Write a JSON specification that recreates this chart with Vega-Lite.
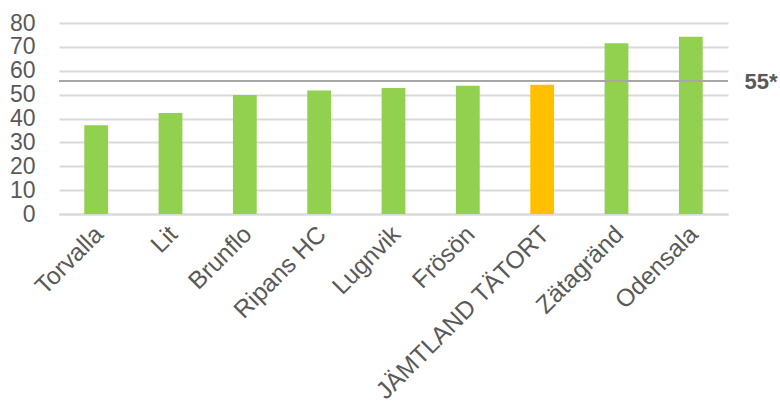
{
  "$schema": "https://vega.github.io/schema/vega-lite/v6.json",
  "autosize": "none",
  "width": 669,
  "height": 191,
  "padding": {"left": 59, "top": 23, "right": 52, "bottom": 191},
  "background": "white",
  "config": {"view": {"stroke": null}, "font": "Liberation Sans"},
  "layer": [
    {
      "data": {"values": [
        {"plats": "Torvalla", "värde": 37.2, "typ": "enhet"},
        {"plats": "Lit", "värde": 42.3, "typ": "enhet"},
        {"plats": "Brunflo", "värde": 49.8, "typ": "enhet"},
        {"plats": "Ripans HC", "värde": 51.7, "typ": "enhet"},
        {"plats": "Lugnvik", "värde": 52.8, "typ": "enhet"},
        {"plats": "Frösön", "värde": 53.7, "typ": "enhet"},
        {"plats": "JÄMTLAND TÄTORT", "värde": 54.1, "typ": "total"},
        {"plats": "Zätagränd", "värde": 71.5, "typ": "enhet"},
        {"plats": "Odensala", "värde": 74.2, "typ": "enhet"}
      ]},
      "mark": {"type": "bar"},
      "encoding": {
        "x": {"field": "plats", "type": "nominal", "sort": null,
          "scale": {"paddingInner": 0.68, "paddingOuter": 0.34},
          "axis": {"title": null, "labelAngle": -45, "labelFontSize": 24.5, "labelColor": "#595959",
            "labelPadding": 8, "labelOffset": -5, "labelLimit": 500, "ticks": false, "domainColor": "#d9d9d9", "domainWidth": 2}},
        "y": {"field": "värde", "type": "quantitative",
          "scale": {"domain": [0, 80], "nice": false},
          "axis": {"title": null, "values": [0,10,20,30,40,50,60,70,80], "labelFontSize": 23, "labelColor": "#595959",
            "labelPadding": 24, "ticks": false, "domain": false, "gridColor": "#d9d9d9", "gridWidth": 2}},
        "color": {"field": "typ", "type": "nominal",
          "scale": {"domain": ["enhet", "total"], "range": ["#92d050", "#ffc000"]}, "legend": null}
      }
    },
    {
      "data": {"values": [{"gräns": 55.7, "etikett": "55*"}]},
      "mark": {"type": "rule", "color": "#a6a6a6", "strokeWidth": 2},
      "encoding": {
        "y": {"field": "gräns", "type": "quantitative",
          "axis": {"orient": "right", "title": null, "values": [55.7], "labelExpr": "'55*'",
            "grid": false, "ticks": false, "domain": false, "labelFontSize": 22, "labelFontWeight": "bold",
            "labelColor": "#595959", "labelPadding": 16}}
      }
    }
  ],
  "resolve": {"axis": {"y": "independent"}}
}
